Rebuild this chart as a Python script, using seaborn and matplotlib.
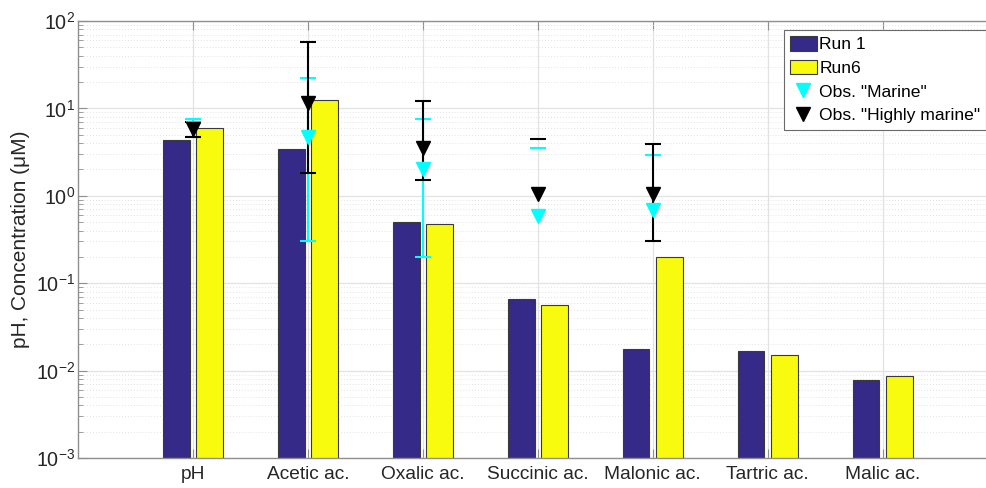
import numpy as np
import pandas as pd
import matplotlib
matplotlib.use("Agg")
import matplotlib.pyplot as plt
import seaborn as sns
from matplotlib.patches import Patch
from matplotlib.lines import Line2D
from matplotlib.ticker import LogLocator, NullFormatter

# ---------------- data ----------------
categories = ["pH", "Acetic ac.", "Oxalic ac.", "Succinic ac.", "Malonic ac.", "Tartric ac.", "Malic ac."]
run1 = [4.4, 3.4, 0.50, 0.066, 0.0178, 0.0168, 0.0079]
run6 = [6.0, 12.5, 0.47, 0.056, 0.20, 0.0150, 0.0086]

obs_categories = ["pH", "Acetic ac.", "Oxalic ac.", "Succinic ac.", "Malonic ac."]
marine = [6.0, 4.7, 2.05, 0.58, 0.68]
marine_hi = [7.6, 22.0, 7.5, 3.5, 2.9]
marine_lo = [4.7, 0.30, 0.20, np.nan, np.nan]
hmarine = [5.8, 11.5, 3.5, 1.06, 1.06]
hmarine_hi = [7.0, 58.0, 12.1, 4.5, 3.9]
hmarine_lo = [4.7, 1.8, 1.5, np.nan, 0.30]

series_names = ["Run 1", "Run6"]
legend_labels = ["Run 1", "Run6", 'Obs. "Marine"', 'Obs. "Highly marine"']

# ---------------- style ----------------
NAVY = "#352A87"
YELLOW = "#F9FB0E"
CYAN = "#00FFFF"
TXT = "#262626"
AXC = "#8f8f8f"

sns.set_style("white")
plt.rcParams["font.family"] = ["Liberation Sans", "DejaVu Sans"]
plt.rcParams["mathtext.default"] = "regular"
plt.rcParams["axes.unicode_minus"] = False

df = pd.DataFrame({
    "category": categories * 2,
    "run": [series_names[0]] * len(categories) + [series_names[1]] * len(categories),
    "value": run1 + run6,
})

fig = plt.figure(figsize=(9.87, 4.88), dpi=100)
ax = fig.add_axes([78 / 987, 30 / 488, (997.7 - 78) / 987, (458 - 21) / 488])

sns.barplot(data=df, x="category", y="value", hue="run", order=categories,
            hue_order=series_names, palette={series_names[0]: NAVY, series_names[1]: YELLOW},
            saturation=1, width=0.58, gap=0.2, errorbar=None, edgecolor="#3a3a3a", linewidth=0.8,
            legend=False, ax=ax, zorder=2)

ax.set_yscale("log")
ax.set_ylim(1e-3, 1e2)
ax.set_xlim(-1, len(categories))

# observations with error bars
xo = np.array([categories.index(c) for c in obs_categories], dtype=float)
for vals, hi, lo, col, zl, zm in [(marine, marine_hi, marine_lo, CYAN, 3, 5),
                                  (hmarine, hmarine_hi, hmarine_lo, "black", 4, 6)]:
    hi = np.array(hi); lo = np.array(lo)
    ok = np.isfinite(lo)
    ax.vlines(xo[ok], lo[ok], hi[ok], color=col, lw=1.5, zorder=zl)
    ax.plot(xo, hi, ls="none", marker="_", ms=11, mew=1.5, color=col, zorder=zl)
    ax.plot(xo[ok], lo[ok], ls="none", marker="_", ms=11, mew=1.5, color=col, zorder=zl)
    ax.plot(xo, vals, ls="none", marker="v", ms=10.5, color=col, mec=col, zorder=zm)

# axes decoration
ax.set_xlabel("")
ax.set_ylabel("pH, Concentration (\u03bcM)", fontsize=15, color=TXT, labelpad=4)
ax.yaxis.set_major_locator(LogLocator(base=10, numticks=10))
ax.yaxis.set_minor_locator(LogLocator(base=10, subs=np.arange(2, 10), numticks=20))
ax.yaxis.set_minor_formatter(NullFormatter())
ax.tick_params(axis="x", direction="in", length=6.5, width=0.8, color=AXC, labelsize=13.8,
               labelcolor=TXT, pad=5.5, top=True, bottom=True)
ax.tick_params(axis="y", which="major", direction="in", length=6.5, width=0.8, color=AXC,
               labelsize=14.2, labelcolor=TXT, pad=2, left=True, right=True)
ax.tick_params(axis="y", which="minor", direction="in", length=3.5, width=0.6, color=AXC,
               left=True, right=True)

ax.grid(True, which="major", axis="both", color="#e2e2e2", lw=0.9, ls="-", zorder=0)
ax.grid(True, which="minor", axis="y", color="#dadada", lw=0.6, ls=(0, (1, 2.5)), zorder=0)
ax.set_axisbelow(True)
for s in ax.spines.values():
    s.set_visible(True)
    s.set_color(AXC)
    s.set_linewidth(1.0)

handles = [Patch(facecolor=NAVY, edgecolor="#3a3a3a", lw=0.8),
           Patch(facecolor=YELLOW, edgecolor="#3a3a3a", lw=0.8),
           Line2D([], [], ls="none", marker="v", ms=10, color=CYAN),
           Line2D([], [], ls="none", marker="v", ms=10, color="black")]
leg = fig.legend(handles, legend_labels, loc="upper right",
                 bbox_to_anchor=(986.5 / 987, 1 - 30 / 488), bbox_transform=fig.transFigure,
                 fontsize=12.6, frameon=True, fancybox=False, framealpha=1,
                 edgecolor="#6a6a6a", borderpad=0.35, labelspacing=0.42,
                 handlelength=1.5, handleheight=0.9, handletextpad=0.15, borderaxespad=0)
leg.get_frame().set_linewidth(0.8)
for t in leg.get_texts():
    t.set_color("black")

fig.savefig("out.png", dpi=100)
